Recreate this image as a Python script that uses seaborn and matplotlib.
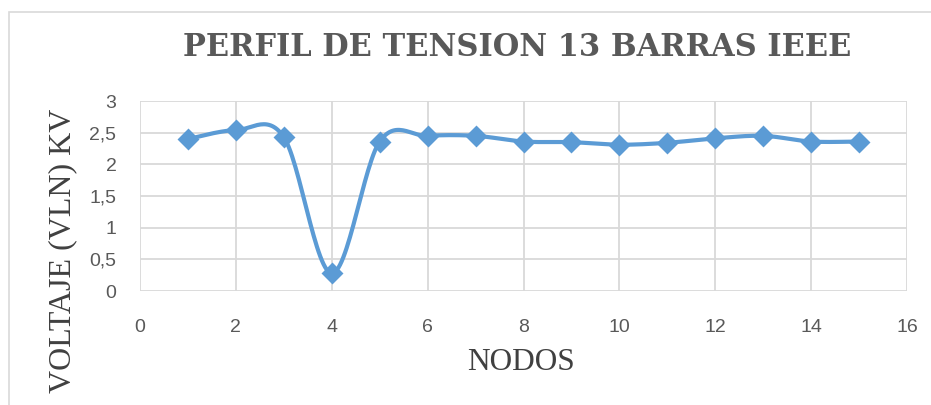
import numpy as np
import pandas as pd
import matplotlib
matplotlib.use("Agg")
import matplotlib.pyplot as plt
import seaborn as sns
from matplotlib.patches import Rectangle

nodos = [1, 2, 3, 4, 5, 6, 7, 8, 9, 10, 11, 12, 13, 14, 15]
voltaje = [2.40, 2.54, 2.43, 0.28, 2.36, 2.45, 2.45, 2.36, 2.35, 2.31, 2.34, 2.41, 2.45, 2.36, 2.36]
x_ticks = [0, 2, 4, 6, 8, 10, 12, 14, 16]
y_ticks = [0, 0.5, 1, 1.5, 2, 2.5, 3]
y_ticklabels = ["0", "0,5", "1", "1,5", "2", "2,5", "3"]

title = "PERFIL DE TENSION 13 BARRAS IEEE"
xlabel = "NODOS"
ylabel = "VOLTAJE (VLN) KV"

sns.set_theme(style="white")
plt.rcParams["font.family"] = ["Liberation Sans Narrow", "Liberation Sans", "DejaVu Sans"]

BLUE = "#5B9BD5"
GRID = "#D9D9D9"
TXT = "#595959"


def smooth(xs, ys, n=30):
    # Excel-style smoothed line (Catmull-Rom Bezier) through the data points
    xs = np.asarray(xs, float)
    ys = np.asarray(ys, float)
    P = np.column_stack([xs, ys])
    out = []
    for i in range(len(P) - 1):
        p0 = P[i - 1] if i > 0 else P[i]
        p1 = P[i]
        p2 = P[i + 1]
        p3 = P[i + 2] if i + 2 < len(P) else P[i + 1]
        c1 = p1 + (p2 - p0) / 6.0
        c2 = p2 - (p3 - p1) / 6.0
        t = np.linspace(0, 1, n)[:, None]
        seg = ((1 - t) ** 3) * p1 + 3 * ((1 - t) ** 2) * t * c1 + 3 * (1 - t) * t ** 2 * c2 + t ** 3 * p2
        out.append(seg if i == 0 else seg[1:])
    return np.vstack(out)


fig = plt.figure(figsize=(9.31, 4.05), dpi=100)
ax = fig.add_axes([140 / 931, 1 - 291 / 405, 767 / 931, 190 / 405])

curve = smooth(nodos, voltaje)
df_curve = pd.DataFrame({"x": curve[:, 0], "y": curve[:, 1]})
df_pts = pd.DataFrame({"Nodo": nodos, "Voltaje": voltaje})

ax.plot(df_curve["x"], df_curve["y"], color=BLUE, lw=3.0, solid_capstyle="round", zorder=3)
sns.scatterplot(data=df_pts, x="Nodo", y="Voltaje", ax=ax, marker="D", s=125,
                color=BLUE, edgecolor=BLUE, linewidth=0, zorder=4)

ax.set_xlim(0, 16)
ax.set_ylim(0, 3)
ax.set_xticks(x_ticks)
ax.set_yticks(y_ticks)
ax.set_yticklabels(y_ticklabels)
ax.grid(True, color=GRID, lw=1.3)
ax.set_axisbelow(True)
for s in ax.spines.values():
    s.set_visible(False)
ax.tick_params(axis="both", length=0, labelsize=14, labelcolor=TXT)
ax.tick_params(axis="x", pad=20)
ax.tick_params(axis="y", pad=17)
ax.set_xlabel("")
ax.set_ylabel("")

fig.text(517 / 931, 1 - 47 / 405, title, ha="center", va="center",
         family=["DejaVu Serif"], fontweight="bold",
         fontsize=22, color=TXT)
fig.text(521 / 931, 1 - 362 / 405, xlabel, ha="center", va="center",
         family=["Liberation Serif", "DejaVu Serif"], fontsize=22.5, color="#404040")
fig.text(63 / 931, 1 - 251 / 405, ylabel, ha="center", va="center", rotation=90,
         family=["Liberation Serif", "DejaVu Serif"], fontsize=23, color="#404040")

fig.patches.append(Rectangle((9 / 931, -0.1), 1.2, 1 - 12 / 405 + 0.1, transform=fig.transFigure,
                             fill=False, edgecolor=GRID, lw=1.2))

fig.savefig("out.png", dpi=100)
